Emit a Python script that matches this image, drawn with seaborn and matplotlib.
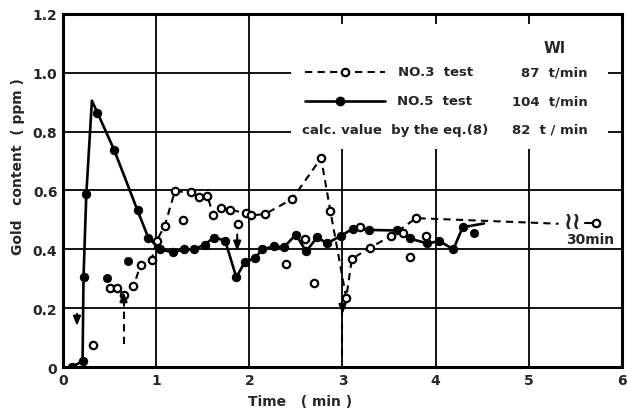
import matplotlib
matplotlib.use("Agg")
import matplotlib.pyplot as plt
import seaborn as sns
import pandas as pd
from matplotlib.patches import Rectangle
from matplotlib.lines import Line2D

# ---- data ----
# NO.3 test (open circles, dashed line)
no3_x = [0.50, 0.58, 0.655, 0.755, 0.835, 0.95, 1.005, 1.09, 1.20, 1.37, 1.46, 1.55,
         1.61, 1.70, 1.79, 1.96, 2.02, 2.17, 2.46, 2.77, 2.87, 3.04, 3.10, 3.29,
         3.52, 3.79, 5.32]
no3_y = [0.268, 0.268, 0.246, 0.274, 0.348, 0.364, 0.43, 0.478, 0.597, 0.594, 0.577, 0.582,
         0.518, 0.542, 0.535, 0.523, 0.515, 0.52, 0.571, 0.71, 0.53, 0.235, 0.367, 0.405,
         0.445, 0.506, 0.487]
no3_unmarked = [26]  # tail of the dashed line has no marker
no3_iso_x = [0.325, 1.29, 1.88, 2.39, 2.60, 2.69, 3.19, 3.645, 3.72, 3.895]
no3_iso_y = [0.075, 0.498, 0.486, 0.35, 0.435, 0.286, 0.475, 0.455, 0.375, 0.445]
no3_30min_x = [5.60, 5.72]   # display position of the 30 min sample
no3_30min_y = [0.49, 0.49]

# NO.5 test (filled circles, solid line)
no5_x = [0.093, 0.21, 0.22, 0.25, 0.31, 0.37, 0.55, 0.80, 0.915, 1.04, 1.18, 1.30, 1.405,
         1.52, 1.62, 1.74, 1.86, 1.95, 2.06, 2.14, 2.26, 2.37, 2.50, 2.61, 2.73, 2.83,
         2.98, 3.11, 3.28, 3.58, 3.72, 3.91, 4.04, 4.19, 4.29, 4.52]
no5_y = [0.0, 0.02, 0.305, 0.587, 0.905, 0.864, 0.737, 0.532, 0.44, 0.40, 0.39, 0.40, 0.40,
         0.416, 0.44, 0.43, 0.305, 0.356, 0.37, 0.40, 0.41, 0.407, 0.45, 0.393, 0.442, 0.42,
         0.445, 0.47, 0.466, 0.464, 0.437, 0.42, 0.428, 0.40, 0.475, 0.488]
no5_unmarked = [4, 35]
no5_iso_x = [0.475, 0.70, 4.41]
no5_iso_y = [0.303, 0.36, 0.455]

# arrow heads: (x, tail_y, tip_y); dashed shafts: (x, y0, y1)
arrows = [(0.15, 0.19, 0.13), (0.65, 0.21, 0.265), (3.00, 0.215, 0.17), (1.87, 0.46, 0.385)]
dashed_shafts = [(0.65, 0.08, 0.23), (3.00, 0.04, 0.19)]

x_ticks = [0, 1, 2, 3, 4, 5, 6]
y_ticks = [0, 0.2, 0.4, 0.6, 0.8, 1.0, 1.2]
y_ticklabels = ["0", "0.2", "0.4", "0.6", "0.8", "1.0", "1.2"]

# ---- figure ----
sns.set_style("white")
plt.rcParams["font.family"] = ["DejaVu Sans"]
plt.rcParams["font.weight"] = "bold"

fig = plt.figure(figsize=(6.27, 4.14), dpi=100)
ax = fig.add_axes([0.1005, 0.111, 0.8915, 0.853])

black = "#000000"
DASH = (0, (3.5, 2.5))

df3 = pd.DataFrame({"x": no3_x, "y": no3_y})
df5 = pd.DataFrame({"x": no5_x, "y": no5_y})
mk3 = [i for i in range(len(no3_x)) if i not in no3_unmarked]
mk5 = [i for i in range(len(no5_x)) if i not in no5_unmarked]

sns.lineplot(data=df3, x="x", y="y", ax=ax, sort=False, estimator=None, color=black,
             lw=1.5, ls=DASH, marker="o", markevery=mk3, markersize=5.3,
             markerfacecolor="white", markeredgecolor=black, markeredgewidth=1.6, zorder=4)
sns.lineplot(data=df5, x="x", y="y", ax=ax, sort=False, estimator=None, color=black,
             lw=1.9, marker="o", markevery=mk5, markersize=6,
             markerfacecolor=black, markeredgecolor=black, zorder=5)
sns.scatterplot(x=no3_iso_x, y=no3_iso_y, ax=ax, s=28, facecolor="white",
                edgecolor=black, linewidth=1.6, zorder=6)
sns.scatterplot(x=no5_iso_x, y=no5_iso_y, ax=ax, s=36, color=black,
                edgecolor=black, zorder=6)
ax.plot(no3_30min_x, no3_30min_y, color=black, lw=1.5, marker="o", markevery=[1],
        markersize=5.3, markerfacecolor="white", markeredgecolor=black,
        markeredgewidth=1.6, zorder=6)
ax.text(5.47, 0.495, "≀≀", ha="center", va="center", fontsize=17, zorder=7)
ax.text(5.66, 0.435, "30min", ha="center", va="center", fontsize=10, zorder=7)

for x, y0, y1 in dashed_shafts:
    ax.plot([x, x], [y0, y1], color=black, lw=1.5, ls=DASH, zorder=6)
for x, y0, y1 in arrows:
    ax.annotate("", xy=(x, y1), xytext=(x, y0),
                arrowprops=dict(arrowstyle="-|>,head_length=0.55,head_width=0.22",
                                color=black, lw=1.5), zorder=6)

ax.set_xlim(0, 6)
ax.set_ylim(0, 1.2)
ax.set_xticks(x_ticks)
ax.set_yticks(y_ticks)
ax.set_yticklabels(y_ticklabels)
ax.grid(True, color=black, lw=1.3)
ax.set_axisbelow(True)
ax.tick_params(length=0, labelsize=10, pad=4)
for lab in ax.get_xticklabels() + ax.get_yticklabels():
    lab.set_fontweight("bold")
for sp in ax.spines.values():
    sp.set_color(black)
    sp.set_linewidth(2.2)

ax.set_xlabel("Time   ( min )", fontsize=10, fontweight="bold", labelpad=6)
ax.xaxis.set_label_coords(0.424, -0.075)
ax.set_ylabel("Gold   content  ( ppm )", fontsize=10, fontweight="bold", labelpad=6)
ax.yaxis.set_label_coords(-0.068, 0.57)

# legend block (white panel hides the grid behind it)
ax.add_patch(Rectangle((2.45, 0.742), 3.4, 0.425, facecolor="white", edgecolor="none",
                       zorder=3))
tr = ax.transAxes
ax.text(0.88, 0.906, "Wl", transform=tr, ha="center", va="center", fontsize=11, zorder=7)
ax.add_line(Line2D([0.433, 0.576], [0.836, 0.836], transform=tr, color=black, lw=1.5,
                   ls=DASH, zorder=7))
ax.add_line(Line2D([0.504], [0.836], transform=tr, marker="o", markersize=5.3,
                   markerfacecolor="white", markeredgecolor=black, markeredgewidth=1.6,
                   zorder=8))
ax.add_line(Line2D([0.433, 0.576], [0.754, 0.754], transform=tr, color=black, lw=1.9,
                   zorder=7))
ax.add_line(Line2D([0.496], [0.754], transform=tr, marker="o", markersize=6,
                   color=black, zorder=8))
ax.text(0.600, 0.836, "NO.3  test", transform=tr, ha="left", va="center", fontsize=9.5, zorder=7)
ax.text(0.939, 0.836, "87  t/min", transform=tr, ha="right", va="center", fontsize=9.5, zorder=7)
ax.text(0.598, 0.754, "NO.5  test", transform=tr, ha="left", va="center", fontsize=9.5, zorder=7)
ax.text(0.939, 0.754, "104  t/min", transform=tr, ha="right", va="center", fontsize=9.5, zorder=7)
ax.text(0.428, 0.674, "calc. value  by the eq.(8)", transform=tr, ha="left", va="center",
        fontsize=9.5, zorder=7)
ax.text(0.939, 0.674, "82  t / min", transform=tr, ha="right", va="center", fontsize=9.5, zorder=7)

fig.savefig("out.png", dpi=100)
